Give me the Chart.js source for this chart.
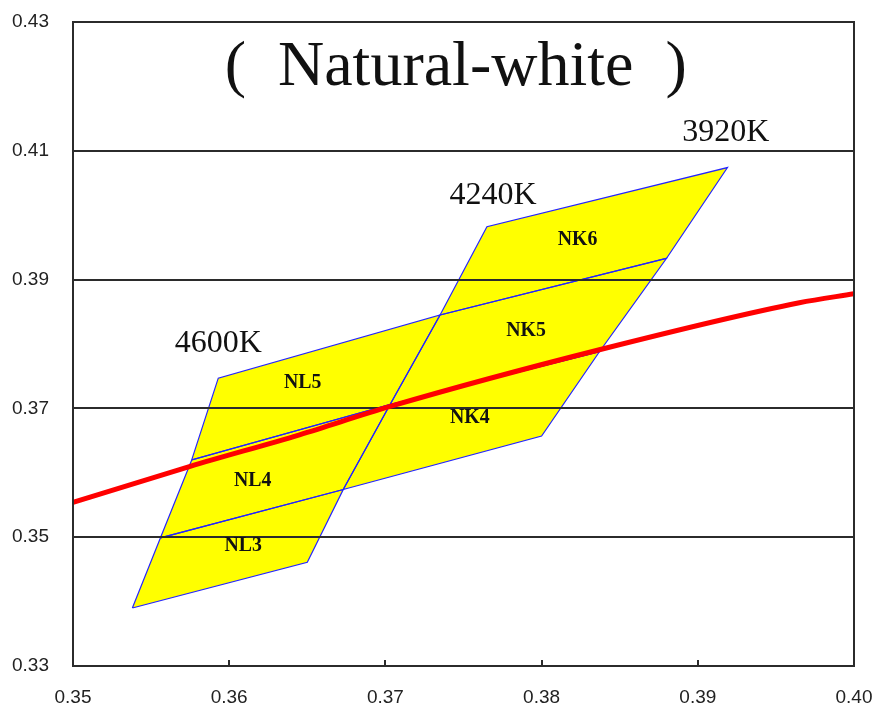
<!DOCTYPE html>
<html>
<head>
<meta charset="utf-8">
<title>Natural-white</title>
<script src="https://cdn.jsdelivr.net/npm/chart.js@4.4.1/dist/chart.umd.min.js"></script>
<style>
  html, body { margin: 0; padding: 0; background: #fff; }
  #wrap { width: 876px; height: 712px; }
</style>
</head>
<body>
<div id="wrap"><canvas id="chartBins" width="876" height="712"></canvas></div>
<script>
// bins: corner x / y (CIE 1931), one row per bin
const binNames = ['NL3', 'NL4', 'NL5', 'NK4', 'NK5', 'NK6'];
const binX = [
  [0.3538, 0.3650, 0.3673, 0.3556],
  [0.3556, 0.3673, 0.3703, 0.3576],
  [0.3576, 0.3703, 0.3735, 0.3593],
  [0.3673, 0.3800, 0.3837, 0.3703],
  [0.3703, 0.3837, 0.3880, 0.3735],
  [0.3735, 0.3880, 0.3919, 0.3765]
];
const binY = [
  [0.3390, 0.3461, 0.3574, 0.3499],
  [0.3499, 0.3574, 0.3706, 0.3620],
  [0.3620, 0.3706, 0.3845, 0.3747],
  [0.3574, 0.3657, 0.3788, 0.3706],
  [0.3706, 0.3788, 0.3933, 0.3845],
  [0.3845, 0.3933, 0.4074, 0.3982]
];
const binLabelX = [0.3609, 0.3615, 0.3647, 0.3754, 0.3790, 0.3823];
const binLabelY = [0.3488, 0.3589, 0.3741, 0.3686, 0.3821, 0.3963];

// CCT labels
const cctNames = ['4600K', '4240K', '3920K'];
const cctLabelX = [0.3593, 0.3769, 0.3918];
const cctLabelY = [0.3801, 0.4030, 0.4129];

// black body locus (red)
const locusX = [0.3500, 0.3575, 0.3645, 0.3703, 0.3837, 0.3965, 0.4000];
const locusY = [0.3554, 0.3610, 0.3659, 0.3703, 0.3791, 0.3864, 0.3878];

const titleText = '(\u2002Natural-white\u2002)';
const titlePos = [0.3745, 0.4229];

const fmt = v => Number(v).toFixed(2);

// grid over the yellow, frame, inner ticks and texts
const overlay = {
  id: 'overlay',
  beforeDatasetDraw(chart, args) {
    if (args.index !== 0) return;
    const { ctx, chartArea: a, scales: { y } } = chart;
    ctx.save();
    ctx.strokeStyle = '#2b2b2b';
    ctx.lineWidth = 2;
    y.ticks.forEach(t => {
      const py = Math.round(y.getPixelForValue(t.value));
      ctx.beginPath();
      ctx.moveTo(a.left, py);
      ctx.lineTo(a.right, py);
      ctx.stroke();
    });
    ctx.restore();
  },
  afterDatasetsDraw(chart) {
    const { ctx, chartArea: a, scales: { x, y } } = chart;
    ctx.save();
    ctx.strokeStyle = '#2b2b2b';
    ctx.lineWidth = 2;
    ctx.strokeRect(a.left, a.top, a.right - a.left, a.bottom - a.top);
    x.ticks.forEach(t => {
      const px = Math.round(x.getPixelForValue(t.value));
      ctx.beginPath();
      ctx.moveTo(px, a.bottom);
      ctx.lineTo(px, a.bottom - 6);
      ctx.stroke();
    });

    ctx.fillStyle = '#111';
    ctx.textAlign = 'center';
    ctx.textBaseline = 'middle';
    ctx.font = '64px "Liberation Serif"';
    ctx.fillText(titleText, x.getPixelForValue(titlePos[0]), y.getPixelForValue(titlePos[1]));

    ctx.font = '32px "Liberation Serif"';
    cctNames.forEach((s, i) => {
      ctx.fillText(s, x.getPixelForValue(cctLabelX[i]), y.getPixelForValue(cctLabelY[i]));
    });

    ctx.font = 'bold 22px "Liberation Serif"';
    binNames.forEach((s, i) => {
      ctx.save();
      ctx.translate(x.getPixelForValue(binLabelX[i]), y.getPixelForValue(binLabelY[i]));
      ctx.scale(0.9, 1);
      ctx.fillText(s, 0, 0);
      ctx.restore();
    });
    ctx.restore();
  }
};

const datasets = [{
  label: 'locus',
  data: locusX.map((v, i) => ({ x: v, y: locusY[i] })),
  showLine: true,
  borderColor: '#ff0000',
  borderWidth: 5,
  pointRadius: 0,
  cubicInterpolationMode: 'monotone',
  fill: false,
  order: 0
}];

binNames.forEach((name, i) => {
  const pts = binX[i].map((v, j) => ({ x: v, y: binY[i][j] }));
  pts.push(pts[0]);
  datasets.push({
    label: name,
    data: pts,
    showLine: true,
    borderColor: '#2424ff',
    borderWidth: 1.2,
    backgroundColor: '#ffff00',
    fill: 'shape',
    pointRadius: 0,
    tension: 0,
    order: 1
  });
});

new Chart(document.getElementById('chartBins'), {
  type: 'scatter',
  data: { datasets },
  options: {
    responsive: false,
    animation: false,
    layout: { padding: { top: 22, right: 22, left: 0, bottom: 0 } },
    plugins: {
      legend: { display: false },
      tooltip: { enabled: false },
      filler: { drawTime: 'beforeDatasetsDraw' }
    },
    scales: {
      x: {
        type: 'linear',
        min: 0.35,
        max: 0.40,
        grid: { display: false, drawTicks: false },
        border: { display: false },
        ticks: {
          stepSize: 0.01,
          color: '#222',
          padding: 20,
          font: { family: 'Liberation Sans', size: 19 },
          callback: fmt
        },
        afterFit: s => { s.height = 46; s.paddingLeft = 0; s.paddingRight = 0; }
      },
      y: {
        type: 'linear',
        min: 0.33,
        max: 0.43,
        grid: { display: false, drawTicks: false },
        border: { display: false },
        ticks: {
          stepSize: 0.02,
          color: '#222',
          padding: 24,
          font: { family: 'Liberation Sans', size: 19 },
          callback: fmt
        },
        afterFit: s => { s.width = 73; s.paddingTop = 0; s.paddingBottom = 0; }
      }
    }
  },
  plugins: [overlay]
});
</script>
</body>
</html>
